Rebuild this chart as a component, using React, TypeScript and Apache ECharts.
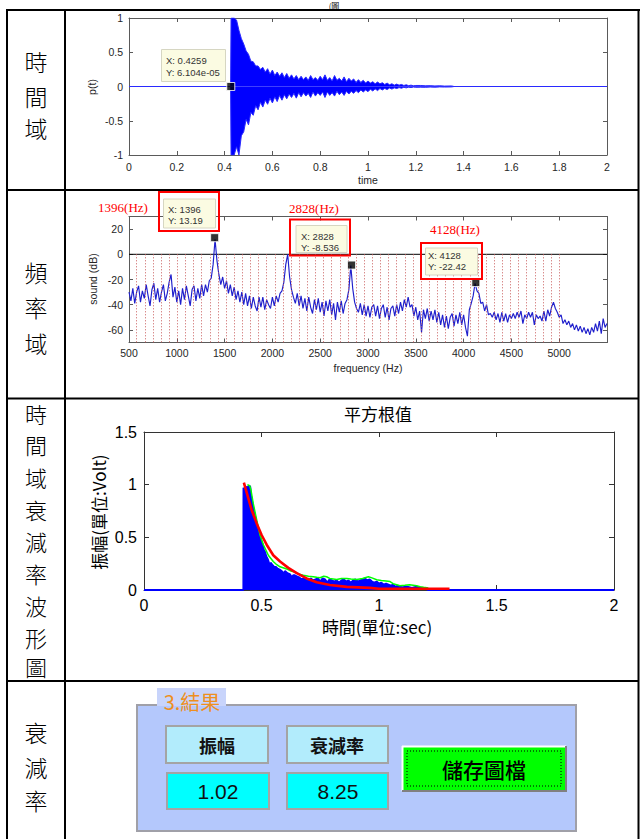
import React, { useEffect, useRef } from 'react';
import * as echarts from 'echarts';

// ---------- Chart 1: time domain p(t) ----------
const ENV_T = [
  0, 0.425, 0.427, 0.43,
  0.44, 0.45, 0.46, 0.47, 0.48, 0.49, 0.5, 0.51, 0.52, 0.53,
  0.54, 0.55, 0.56, 0.57, 0.58, 0.59, 0.6, 0.61, 0.62, 0.63,
  0.64, 0.65, 0.66, 0.67, 0.68, 0.69, 0.7, 0.71, 0.72, 0.73,
  0.74, 0.75, 0.76, 0.77, 0.78, 0.79, 0.8, 0.81, 0.82, 0.83,
  0.84, 0.85, 0.86, 0.87, 0.88, 0.89, 0.9, 0.91, 0.92, 0.93,
  0.94, 0.95, 0.96, 0.97, 0.98, 0.99, 1.0, 1.01, 1.02, 1.03,
  1.04, 1.05, 1.06, 1.07, 1.08, 1.09, 1.1, 1.11, 1.12, 1.13,
  1.14, 1.15, 1.16, 1.17, 1.18, 1.19, 1.2,
  1.22, 1.24, 1.26, 1.28, 1.3, 1.32,
  1.35, 1.36, 2,
];
const ENV_UP = [
  0, 0, 1, 1,
  1, 0.97, 0.82, 0.7, 0.62, 0.52, 0.47, 0.37, 0.36, 0.3,
  0.3, 0.25, 0.28, 0.21, 0.26, 0.18, 0.24, 0.16, 0.21, 0.15,
  0.2, 0.13, 0.19, 0.12, 0.17, 0.11, 0.16, 0.1, 0.15, 0.1,
  0.14, 0.09, 0.16, 0.1, 0.13, 0.09, 0.15, 0.1, 0.17, 0.09,
  0.13, 0.08, 0.16, 0.09, 0.12, 0.08, 0.14, 0.07, 0.12, 0.08,
  0.11, 0.06, 0.1, 0.06, 0.09, 0.05, 0.08, 0.05, 0.07, 0.04,
  0.065, 0.04, 0.055, 0.03, 0.05, 0.025, 0.04, 0.02, 0.035, 0.02,
  0.03, 0.015, 0.025, 0.012, 0.02, 0.01, 0.015,
  0.015, 0.01, 0.012, 0.008, 0.01, 0.006,
  0.008, 0, 0,
];
const ENV_LO = [
  0, 0, -1, -1,
  -1, -0.88, -1, -0.72, -0.66, -0.48, -0.56, -0.38, -0.42, -0.28,
  -0.34, -0.23, -0.3, -0.2, -0.26, -0.17, -0.24, -0.15, -0.22, -0.13,
  -0.2, -0.12, -0.18, -0.11, -0.16, -0.1, -0.17, -0.09, -0.15, -0.09,
  -0.14, -0.1, -0.16, -0.08, -0.14, -0.09, -0.13, -0.08, -0.16, -0.08,
  -0.13, -0.09, -0.14, -0.07, -0.12, -0.08, -0.13, -0.07, -0.11, -0.07,
  -0.1, -0.06, -0.09, -0.05, -0.08, -0.05, -0.075, -0.04, -0.065, -0.035,
  -0.06, -0.03, -0.05, -0.028, -0.045, -0.022, -0.038, -0.02, -0.03, -0.016,
  -0.025, -0.012, -0.02, -0.01, -0.016, -0.008, -0.012,
  -0.01, -0.012, -0.008, -0.01, -0.006, -0.008,
  -0.006, 0, 0,
];
const TIP_T = 0.4259;
const TIP_P = 6.104e-5;

// ---------- Chart 2: spectrum ----------
const SPEC_START_HZ = 500;
const SPEC_STEP_HZ = 20;
const SPEC_DB = [
  -30, -37, -27, -39, -30, -25, -38, -29, -35, -24,
  -33, -41, -28, -23, -36, -27, -38, -30, -24, -37,
  -31, -22, -16, -34, -26, -38, -29, -40, -27, -36,
  -25, -33, -41, -28, -25, -37, -27, -35, -24, -33,
  -24, -30, -21, -19, -8, 12, -5, -16, -24, -18,
  -27, -21, -31, -24, -33, -26, -36, -29, -38, -30,
  -40, -31, -41, -33, -43, -34, -41, -45, -34, -42,
  -34, -44, -36, -40, -43, -34, -41, -33, -38, -31,
  -29, -22, -8, 0, -18, -28, -34, -39, -31, -41,
  -33, -43, -35, -45, -34, -42, -47, -36, -44, -35,
  -46, -38, -49, -37, -45, -36, -48, -39, -52, -38,
  -46, -37, -47, -39, -36, -28, -9, -27, -38, -43,
  -46, -39, -48, -40, -49, -41, -50, -42, -40, -49,
  -41, -51, -43, -40, -50, -42, -52, -43, -41, -49,
  -40, -47, -38, -45, -36, -42, -34, -42, -40, -49,
  -42, -52, -45, -62, -44, -51, -43, -53, -45, -52,
  -44, -54, -46, -56, -48, -58, -49, -59, -50, -47,
  -57, -48, -55, -46, -56, -48, -58, -65, -44, -39,
  -33, -23, -29, -31, -39, -38, -45, -40, -48, -47,
  -50, -46, -52, -47, -54, -46, -53, -47, -54, -48,
  -51, -47, -51, -46, -50, -45, -55, -48, -51, -46,
  -50, -46, -56, -48, -51, -49, -53, -45, -53, -44,
  -49, -42, -38, -43, -46, -50, -48, -55, -52, -56,
  -53, -58, -55, -60, -56, -61, -57, -62, -58, -63,
  -59, -64, -58, -62, -55, -61, -53, -63, -51, -58,
  -55,
];
const PEAK_HZ = [1396, 2828, 4128];
const PEAK_DB = [13.19, -8.536, -22.42];
const GRID_LINE_HZ = [
  580, 665, 750, 835, 920, 1005, 1090, 1175, 1260, 1345,
  1430, 1515, 1600, 1685, 1770, 1855, 1940, 2025, 2110, 2195,
  2280, 2365, 2450, 2535, 2620, 2705, 2790, 2875, 2960, 3045,
  3130, 3215, 3300, 3385, 3470, 3555, 3640, 3725, 3810, 3895,
  3980, 4065, 4150, 4235, 4320, 4405, 4490, 4575, 4660, 4745,
  4830, 4915, 5000,
];
const SPEC_Y_TICKS = [-60, -40, -20, 0, 20];

// ---------- Chart 3: RMS decay ----------
const RMS_POINTS = [
  [0, 0], [0.423, 0], [0.4235, 0.97], [0.43, 0.95], [0.435, 0.98], [0.44, 0.97], [0.447, 0.99], [0.452, 0.98],
  [0.455, 0.9], [0.46, 0.84], [0.465, 0.78], [0.47, 0.72], [0.475, 0.68], [0.48, 0.62], [0.485, 0.58], [0.49, 0.54],
  [0.495, 0.5], [0.5, 0.46], [0.505, 0.43], [0.51, 0.38], [0.515, 0.36], [0.52, 0.32], [0.525, 0.3], [0.53, 0.27],
  [0.535, 0.22], [0.54, 0.26], [0.545, 0.24], [0.55, 0.23], [0.555, 0.21], [0.56, 0.22], [0.57, 0.2], [0.58, 0.19],
  [0.59, 0.17], [0.595, 0.14], [0.6, 0.18], [0.61, 0.16], [0.62, 0.15], [0.63, 0.12], [0.635, 0.14], [0.64, 0.14],
  [0.65, 0.13], [0.66, 0.12], [0.67, 0.1], [0.68, 0.11], [0.69, 0.1], [0.7, 0.09], [0.71, 0.11], [0.72, 0.09],
  [0.73, 0.1], [0.74, 0.11], [0.75, 0.08], [0.76, 0.11], [0.77, 0.1], [0.78, 0.07], [0.79, 0.1], [0.8, 0.09],
  [0.81, 0.08], [0.82, 0.09], [0.83, 0.07], [0.84, 0.09], [0.85, 0.1], [0.86, 0.08], [0.87, 0.09], [0.88, 0.07],
  [0.89, 0.09], [0.9, 0.1], [0.91, 0.08], [0.92, 0.09], [0.93, 0.1], [0.94, 0.11], [0.95, 0.09], [0.96, 0.1],
  [0.97, 0.08], [0.98, 0.07], [0.99, 0.08], [1.0, 0.06], [1.01, 0.07], [1.02, 0.05], [1.03, 0.06], [1.04, 0.05],
  [1.05, 0.04], [1.06, 0.05], [1.07, 0.03], [1.08, 0.04], [1.09, 0.03], [1.1, 0.025], [1.12, 0.03], [1.14, 0.02],
  [1.16, 0.03], [1.18, 0.02], [1.2, 0.01], [1.21, 0], [2, 0],
];
const GREEN_POINTS = [
  [0.44, 1.0], [0.45, 0.99], [0.455, 0.95], [0.465, 0.82], [0.48, 0.66], [0.494, 0.52], [0.508, 0.43],
  [0.529, 0.33], [0.55, 0.27], [0.565, 0.24], [0.579, 0.22], [0.607, 0.2], [0.625, 0.18], [0.643, 0.17],
  [0.66, 0.15], [0.678, 0.14], [0.7, 0.13], [0.72, 0.126], [0.735, 0.12], [0.749, 0.117], [0.765, 0.13],
  [0.777, 0.126], [0.79, 0.11], [0.805, 0.105], [0.82, 0.1], [0.84, 0.11], [0.863, 0.11], [0.88, 0.105],
  [0.905, 0.1], [0.93, 0.11], [0.955, 0.126], [0.97, 0.115], [0.99, 0.097], [1.01, 0.09], [1.03, 0.085],
  [1.047, 0.08], [1.06, 0.06], [1.075, 0.05], [1.089, 0.04], [1.11, 0.045], [1.13, 0.05], [1.145, 0.045],
  [1.16, 0.04], [1.175, 0.03], [1.19, 0.025], [1.21, 0.02],
];
const FIT_POINTS = [
  [0.425, 1.02], [0.444, 0.87], [0.458, 0.76], [0.48, 0.63], [0.501, 0.52], [0.522, 0.43], [0.55, 0.33],
  [0.579, 0.27], [0.614, 0.21], [0.65, 0.16], [0.692, 0.11], [0.735, 0.073], [0.791, 0.047], [0.863, 0.03],
  [0.96, 0.02], [1.0, 0.012], [1.3, 0.012],
];

// ---------- Result panel ----------
const AMPLITUDE = 1.02;
const DECAY_RATE = 8.25;

const SANS = '"Liberation Sans", Arial, sans-serif';
const CJK = '"Noto Sans CJK TC", "Noto Sans CJK SC", sans-serif';
const SERIF = '"Liberation Serif", "Times New Roman", serif';

function fmtExp(v: number) {
  return v.toExponential(3).replace(/e([+-])(\d)$/, 'e$10$2');
}
function fmtNum(v: number) {
  return String(parseFloat(v.toFixed(2)));
}

function txt(text: string, x: number, y: number, opts: any = {}, rotation = 0) {
  return {
    type: 'text', x, y, rotation, silent: true, z: 100,
    style: { text, fill: '#000', fontSize: 12, fontFamily: SANS, align: 'center', verticalAlign: 'middle', ...opts },
  };
}
function rect(x: number, y: number, w: number, h: number, style: any, z = 90) {
  return { type: 'rect', silent: true, z, shape: { x, y, width: w, height: h }, style };
}
function line(x1: number, y1: number, x2: number, y2: number, style: any, z = 95) {
  return { type: 'line', silent: true, z, shape: { x1, y1, x2, y2 }, style };
}

function xPair(gridIndex: number, min: number, max: number, interval: number, label: any, lineColor: string, tickLen: number, formatter: any) {
  const common = {
    gridIndex, type: 'value', min, max, interval,
    axisLine: { show: true, onZero: false, lineStyle: { color: lineColor, width: 1 } },
    axisTick: { show: true, inside: true, length: tickLen, lineStyle: { color: lineColor } },
    splitLine: { show: false },
  };
  return [
    { ...common, position: 'bottom', axisLabel: { ...label, formatter } },
    { ...common, position: 'top', axisLabel: { show: false } },
  ];
}
function yPair(gridIndex: number, min: number, max: number, interval: number | undefined, label: any, lineColor: string, tickLen: number, custom?: number[]) {
  const common: any = {
    gridIndex, type: 'value', min, max,
    axisLine: { show: true, onZero: false, lineStyle: { color: lineColor, width: 1 } },
    axisTick: { show: true, inside: true, length: tickLen, lineStyle: { color: lineColor } },
    splitLine: { show: false },
  };
  if (interval !== undefined) common.interval = interval;
  const tick = custom ? { ...common.axisTick, customValues: custom } : common.axisTick;
  return [
    { ...common, position: 'left', axisTick: tick, axisLabel: custom ? { ...label, customValues: custom } : label },
    { ...common, position: 'right', axisTick: tick, axisLabel: { show: false } },
  ];
}

export default function App() {
  const ref = useRef<HTMLDivElement>(null);

  useEffect(() => {
    if (!ref.current) return;
    const chart = echarts.init(ref.current, null, { renderer: 'svg' });

    const smallLabel = { fontFamily: SANS, fontSize: 10.5, color: '#262626', margin: 6 };
    const bigLabel = { fontFamily: SANS, fontSize: 16, color: '#000', margin: 7 };

    const graphics: any[] = [];

    // table lines
    const TL = { stroke: '#000', lineWidth: 2 };
    graphics.push(line(6, 10, 640, 10, TL));
    graphics.push(line(7, 10, 7, 839, TL));
    graphics.push(line(65, 10, 65, 839, TL));
    graphics.push(line(638.5, 10, 638.5, 839, TL));
    graphics.push(line(7, 190, 639, 190, TL));
    graphics.push(line(7, 398.5, 639, 398.5, TL));
    graphics.push(line(7, 681, 639, 681, TL));
    graphics.push(txt('(圖', 334, 1, { fontSize: 8, fontFamily: CJK, verticalAlign: 'top', lineHeight: 8 }));

    // left column labels
    const rowLabels: [string, number[], number][] = [
      ['時間域', [61, 96, 128], 23],
      ['頻率域', [272, 307, 343], 23],
      ['時間域衰減率波形圖', [413, 444, 477, 509, 541, 573, 605, 637, 666], 22],
      ['衰減率', [732, 767, 800], 23],
    ];
    rowLabels.forEach(([s, ys, fs]) => {
      Array.from(s).forEach((ch, i) => graphics.push(txt(ch, 36, ys[i], { fontSize: fs, fontFamily: CJK, fontWeight: 300 })));
    });

    // chart 1 annotations
    graphics.push(txt('p(t)', 92, 87, { fontSize: 10.5, fill: '#262626' }, Math.PI / 2));
    graphics.push(txt('time', 368, 180, { fontSize: 10.5, fill: '#262626' }));
    graphics.push(rect(161.5, 49.5, 64, 32, { fill: '#fbfbe2', stroke: '#d6d6c2', lineWidth: 1 }));
    graphics.push(txt(`X: ${TIP_T}\nY: ${fmtExp(TIP_P)}`, 166, 54, { fontSize: 9.5, fill: '#333', align: 'left', verticalAlign: 'top', lineHeight: 12 }));

    // chart 2 annotations
    graphics.push(txt('sound (dB)', 93, 279, { fontSize: 10.5, fill: '#262626' }, Math.PI / 2));
    graphics.push(txt('frequency (Hz)', 368, 368, { fontSize: 10.5, fill: '#262626' }));
    const tipLayout = [
      { red: [159, 192, 60, 39], box: [163.5, 199, 52, 29], text: [168, 204], label: [123, 207.5] },
      { red: [290, 219.5, 60, 36], box: [296, 225.5, 51, 27], text: [301, 231], label: [314, 208.5] },
      { red: [421, 243, 61, 36], box: [425.5, 248, 52, 27], text: [428, 250], label: [455, 229.5] },
    ];
    tipLayout.forEach((L, i) => {
      graphics.push(rect(L.box[0], L.box[1], L.box[2], L.box[3], { fill: '#fbfbe2', stroke: '#d6d6c2', lineWidth: 1 }));
      graphics.push(rect(L.red[0], L.red[1], L.red[2], L.red[3], { fill: 'none', stroke: '#ff0000', lineWidth: 2 }));
      graphics.push(txt(`X: ${PEAK_HZ[i]}\nY: ${PEAK_DB[i]}`, L.text[0], L.text[1], { fontSize: 9.5, fill: '#333', align: 'left', verticalAlign: 'top', lineHeight: 11 }));
      graphics.push(txt(`${PEAK_HZ[i]}(Hz)`, L.label[0], L.label[1], { fontSize: 13, fill: '#ff0000', fontFamily: SERIF }));
    });

    // chart 3 annotations
    graphics.push(txt('平方根值', 378, 413, { fontSize: 17, fontFamily: CJK }));
    graphics.push(txt('振幅(單位:Volt)', 98, 512, { fontSize: 17, fontFamily: CJK }, Math.PI / 2));
    graphics.push(txt('時間(單位:sec)', 377, 626, { fontSize: 17, fontFamily: CJK }));

    // result panel
    graphics.push(rect(137, 705, 439, 126, { fill: '#b4c8fc', stroke: '#a0a0a8', lineWidth: 2 }, 80));
    graphics.push(rect(157, 688, 69, 18, { fill: '#c8d4fb' }, 81));
    graphics.push(txt('3.結果', 192, 701, { fontSize: 20, fontFamily: CJK, fill: '#ee8f1e' }));
    const boxStyle = (fill: string) => ({ fill, stroke: '#a4a4a4', lineWidth: 2 });
    graphics.push(rect(166, 726, 102, 37, boxStyle('#b2ecfc'), 85));
    graphics.push(rect(287, 726, 101, 37, boxStyle('#b2ecfc'), 85));
    graphics.push(rect(167, 773, 102, 36, boxStyle('#00ffff'), 85));
    graphics.push(rect(287, 773, 101, 36, boxStyle('#00ffff'), 85));
    graphics.push(txt('振幅', 217, 745, { fontSize: 18, fontFamily: CJK, fontWeight: 'bold', fill: '#111' }));
    graphics.push(txt('衰減率', 337, 745, { fontSize: 18, fontFamily: CJK, fontWeight: 'bold', fill: '#111' }));
    graphics.push(txt(String(AMPLITUDE.toFixed(2)), 218, 791, { fontSize: 21, fontFamily: SANS, fill: '#111' }));
    graphics.push(txt(String(DECAY_RATE.toFixed(2)), 338, 791, { fontSize: 21, fontFamily: SANS, fill: '#111' }));
    // button
    graphics.push(rect(402, 746, 164, 45, { fill: '#00ff00' }, 85));
    graphics.push(line(402, 746.5, 566, 746.5, { stroke: '#ffffff', lineWidth: 2 }, 86));
    graphics.push(line(402.5, 746, 402.5, 791, { stroke: '#ffffff', lineWidth: 2 }, 86));
    graphics.push(line(402, 791, 567, 791, { stroke: '#808080', lineWidth: 2 }, 86));
    graphics.push(line(566, 746, 566, 791, { stroke: '#808080', lineWidth: 2 }, 86));
    graphics.push(rect(407, 751, 154, 35, { fill: 'none', stroke: '#000', lineWidth: 1, lineDash: [1, 2] }, 87));
    graphics.push(txt('儲存圖檔', 484, 769, { fontSize: 21, fontFamily: CJK, fontWeight: 500, fill: '#000' }));

    const option: any = {
      animation: false,
      backgroundColor: '#ffffff',
      grid: [
        { left: 129, top: 18, width: 478, height: 137 },
        { left: 129, top: 216.5, width: 478, height: 126 },
        { left: 144, top: 432, width: 470, height: 158 },
      ],
      xAxis: [
        ...xPair(0, 0, 2, 0.2, smallLabel, '#5a5a5a', 4, (v: number) => fmtNum(v)),
        ...xPair(1, 500, 5500, 500, { ...smallLabel, margin: 5 }, '#5a5a5a', 4, (v: number) => (v === 5500 ? '' : String(v))),
        ...xPair(2, 0, 2, 0.5, bigLabel, '#333', 5, (v: number) => fmtNum(v)),
      ],
      yAxis: [
        ...yPair(0, -1, 1, 0.5, smallLabel, '#5a5a5a', 4),
        ...yPair(1, -70, 30, undefined, smallLabel, '#5a5a5a', 4, SPEC_Y_TICKS),
        ...yPair(2, 0, 1.5, 0.5, bigLabel, '#333', 5),
      ],
      series: [
        {
          type: 'line', name: 'p(t)+', xAxisIndex: 0, yAxisIndex: 0,
          data: ENV_T.map((t, i) => [t, ENV_UP[i]]),
          showSymbol: false, symbol: 'none', lineStyle: { color: '#2a2aff', width: 1 },
          areaStyle: { color: '#0000ff', opacity: 1 }, silent: true,
        },
        {
          type: 'line', name: 'p(t)-', xAxisIndex: 0, yAxisIndex: 0,
          data: ENV_T.map((t, i) => [t, ENV_LO[i]]),
          showSymbol: false, symbol: 'none', lineStyle: { color: '#2a2aff', width: 1 },
          areaStyle: { color: '#0000ff', opacity: 1 }, silent: true,
        },
        {
          type: 'scatter', name: 'datatip1', xAxisIndex: 0, yAxisIndex: 0,
          data: [[TIP_T, TIP_P]], symbol: 'rect', symbolSize: 8,
          itemStyle: { color: '#000', borderColor: '#fff', borderWidth: 1 }, z: 5, silent: true,
        },
        {
          type: 'line', name: 'zero', xAxisIndex: 2, yAxisIndex: 2,
          data: [[SPEC_START_HZ, 0], [SPEC_START_HZ + SPEC_STEP_HZ * (SPEC_DB.length - 1), 0]],
          showSymbol: false, symbol: 'none', lineStyle: { color: '#000', width: 1 }, z: 1, silent: true,
          markLine: {
            silent: true, symbol: ['none', 'none'], label: { show: false }, animation: false,
            lineStyle: { color: '#c85a5a', width: 1, type: [1, 2] },
            data: GRID_LINE_HZ.map((f) => [{ coord: [f, 0] }, { coord: [f, -70] }]),
          },
        },
        {
          type: 'line', name: 'spectrum', xAxisIndex: 2, yAxisIndex: 2,
          data: SPEC_DB.map((v, i) => [SPEC_START_HZ + SPEC_STEP_HZ * i, v]),
          showSymbol: false, symbol: 'none', lineStyle: { color: '#1f1fcc', width: 1.15 }, z: 3, silent: true,
        },
        {
          type: 'scatter', name: 'peaks', xAxisIndex: 2, yAxisIndex: 2,
          data: PEAK_HZ.map((f, i) => [f, PEAK_DB[i]]), symbol: 'rect', symbolSize: 8,
          itemStyle: { color: '#000', borderColor: '#fff', borderWidth: 1 }, z: 5, silent: true,
        },
        {
          type: 'line', name: 'rms', xAxisIndex: 4, yAxisIndex: 4, data: RMS_POINTS,
          showSymbol: false, symbol: 'none', lineStyle: { color: '#0000ff', width: 2 },
          areaStyle: { color: '#0000ff', opacity: 1 }, z: 2, silent: true,
        },
        {
          type: 'line', name: 'envelope', xAxisIndex: 4, yAxisIndex: 4, data: GREEN_POINTS,
          showSymbol: false, symbol: 'none', lineStyle: { color: '#00ff00', width: 1.5 }, z: 3, silent: true,
        },
        {
          type: 'line', name: 'fit', xAxisIndex: 4, yAxisIndex: 4, data: FIT_POINTS,
          showSymbol: false, symbol: 'none', lineStyle: { color: '#ff0000', width: 2.6 }, z: 4, silent: true,
        },
      ],
      graphic: { elements: graphics },
    };

    chart.setOption(option);
    return () => chart.dispose();
  }, []);

  return <div ref={ref} style={{ position: 'absolute', left: 0, top: 0, width: 640, height: 839 }} />;
}
